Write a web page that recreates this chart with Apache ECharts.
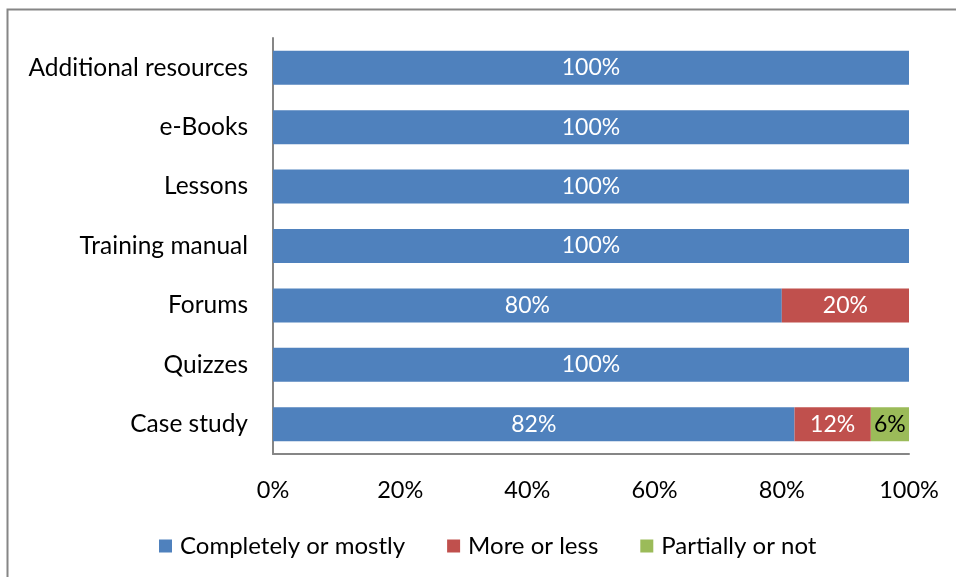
<!DOCTYPE html>
<html>
<head>
<meta charset="utf-8">
<script src="https://cdn.jsdelivr.net/npm/echarts@6/dist/echarts.min.js"></script>
<style>
  html, body { margin: 0; padding: 0; background: #fff; }
  #main { width: 956px; height: 577px; }
</style>
</head>
<body>
<div id="main"></div>
<script>
  // categories bottom -> top
  var categories = ['Case study', 'Quizzes', 'Forums', 'Training manual', 'Lessons', 'e-Books', 'Additional resources']
  var completely = [82, 100, 80, 100, 100, 100, 100]
  var moreOrLess = [12, 0, 20, 0, 0, 0, 0]
  var partially = [6, 0, 0, 0, 0, 0, 0]
  var seriesNames = ['Completely or mostly', 'More or less', 'Partially or not']

  var font = 'Lato, "Open Sans", sans-serif'
  var mChart = echarts.init(document.getElementById('main'))

  function makeSeries(name, data, color, labelColor) {
    return {
      name: name,
      type: 'bar',
      stack: 'a',
      barWidth: 34,
      data: data,
      itemStyle: { color: color },
      label: {
        show: true,
        position: 'inside',
        color: labelColor,
        fontFamily: font,
        fontSize: 23,
        formatter: function (p) { return p.value > 0 ? p.value + '%' : '' }
      },
      animation: false
    }
  }

  var option = {
    animation: false,
    textStyle: { fontFamily: font },
    grid: { left: 273, right: 47, top: 38, bottom: 123 },
    legend: {
      top: 529,
      left: 154,
      itemWidth: 13,
      itemHeight: 13,
      itemGap: 42,
      icon: 'rect',
      textStyle: { fontSize: 24, color: '#000', fontFamily: font, padding: [0, 0, 0, 3] },
      data: seriesNames
    },
    xAxis: {
      type: 'value',
      min: 0,
      max: 100,
      interval: 20,
      splitLine: { show: false },
      axisLine: { show: true, lineStyle: { color: '#868686', width: 2 } },
      axisTick: { show: false },
      axisLabel: { color: '#000', fontSize: 23.5, margin: 24, formatter: '{value}%' }
    },
    yAxis: {
      type: 'category',
      data: categories,
      axisLine: { show: true, lineStyle: { color: '#868686', width: 2 } },
      axisTick: { show: false },
      axisLabel: { color: '#000', fontSize: 24.5, margin: 25 }
    },
    graphic: [{
      type: 'polyline',
      shape: { points: [[7.5, 577], [7.5, 9.5], [956, 9.5]] },
      style: { stroke: '#868686', lineWidth: 2, fill: null }
    }],
    series: [
      makeSeries(seriesNames[0], completely, '#4F81BD', '#fff'),
      makeSeries(seriesNames[1], moreOrLess, '#C0504D', '#fff'),
      makeSeries(seriesNames[2], partially, '#9BBB59', '#000')
    ]
  }
  mChart.setOption(option)
</script>
</body>
</html>
